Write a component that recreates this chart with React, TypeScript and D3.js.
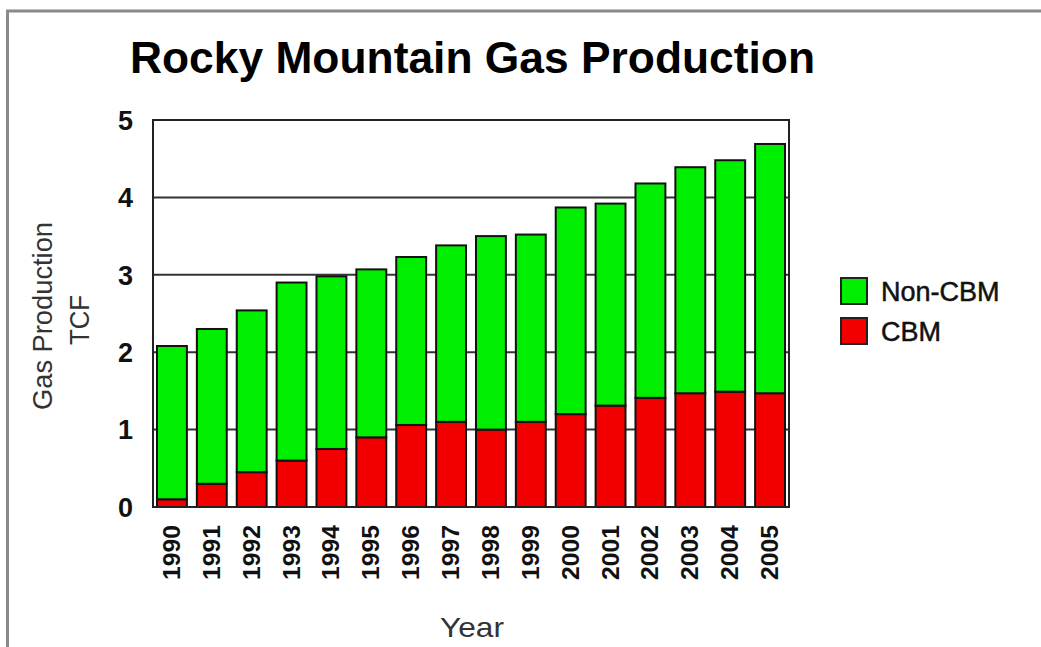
import React from "react";
import * as d3 from "d3";

const years = ["1990","1991","1992","1993","1994","1995","1996","1997","1998","1999","2000","2001","2002","2003","2004","2005"];
const cbm = [0.10,0.30,0.45,0.60,0.75,0.90,1.06,1.10,1.00,1.10,1.20,1.31,1.41,1.47,1.49,1.47];
const nonCbm = [1.98,2.00,2.09,2.30,2.23,2.17,2.17,2.28,2.50,2.42,2.67,2.61,2.77,2.92,2.99,3.22];
const yTicks = [0,1,2,3,4,5];
const seriesNames = ["Non-CBM","CBM"];
const seriesColors = ["#00ee00","#f20000"];

const W = 1041, H = 647;
const plot = { left: 153, right: 789, top: 120, bottom: 507 };

export default function App() {
  const x = d3.scaleBand<string>().domain(years).range([plot.left, plot.right]).paddingInner(0.25).paddingOuter(0.1);
  const y = d3.scaleLinear().domain([0, 5]).range([plot.bottom, plot.top]);
  const rows = years.map((yr, i) => ({ year: yr, CBM: cbm[i], "Non-CBM": nonCbm[i] }));
  const stacked = d3.stack<any>().keys(["CBM", "Non-CBM"])(rows);
  const colorOf = (k: string) => seriesColors[seriesNames.indexOf(k)];
  const font = "'Liberation Sans', Arial, sans-serif";

  return (
    <svg width={W} height={H} style={{ position: "absolute", left: 0, top: 0, background: "#fff" }} fontFamily={font}>
      <rect x={0} y={0} width={W} height={H} fill="#fff" />
      {/* outer frame */}
      <path d={`M7.5,${H + 5} V11 H${W + 5}`} fill="none" stroke="#8a8a8a" strokeWidth={3} />
      {/* title */}
      <text x={130} y={73} fontSize={44} fontWeight="bold" textLength={685} lengthAdjust="spacingAndGlyphs" fill="#000">Rocky Mountain Gas Production</text>
      {/* gridlines */}
      {yTicks.filter(t => t > 0 && t < 5).map(t => (
        <line key={t} x1={plot.left} x2={plot.right} y1={y(t)} y2={y(t)} stroke="#333" strokeWidth={2} />
      ))}
      {/* bars */}
      {stacked.map(layer => (
        <g key={layer.key}>
          {layer.map((d, i) => (
            <rect key={i} x={x(years[i])!} y={y(d[1])} width={x.bandwidth()} height={y(d[0]) - y(d[1])}
              fill={colorOf(layer.key as string)} stroke="#111" strokeWidth={2} />
          ))}
        </g>
      ))}
      {/* plot frame */}
      <rect x={plot.left} y={plot.top} width={plot.right - plot.left} height={plot.bottom - plot.top} fill="none" stroke="#222" strokeWidth={2} />
      {/* y tick labels */}
      {yTicks.map(t => (
        <text key={t} x={133} y={y(t)} dy="0.36em" textAnchor="end" fontSize={27} fontWeight="bold" fill="#111">{t}</text>
      ))}
      {/* x tick labels */}
      {years.map(yr => {
        const cx = x(yr)! + x.bandwidth() / 2;
        return (
          <text key={yr} transform={`translate(${cx + 8},525) rotate(-90)`} textAnchor="end" fontSize={23} fontWeight="bold" textLength={55} lengthAdjust="spacingAndGlyphs" fill="#111">{yr}</text>
        );
      })}
      {/* axis titles */}
      <text transform={`translate(52,316) rotate(-90)`} textAnchor="middle" fontSize={28} textLength={188} lengthAdjust="spacingAndGlyphs" fill="#333">Gas Production</text>
      <text transform={`translate(89,320) rotate(-90)`} textAnchor="middle" fontSize={28} textLength={50} lengthAdjust="spacingAndGlyphs" fill="#333">TCF</text>
      <text x={472} y={637} textAnchor="middle" fontSize={28} textLength={64} lengthAdjust="spacingAndGlyphs" fill="#333">Year</text>
      {/* legend */}
      {seriesNames.map((s, i) => (
        <g key={s} transform={`translate(841,${278 + i * 40})`}>
          <rect x={0} y={0} width={26} height={26} fill={seriesColors[i]} stroke="#222" strokeWidth={2} />
          <text x={40} y={23} fontSize={27} fill="#111" stroke="#111" strokeWidth={0.5}>{s}</text>
        </g>
      ))}
    </svg>
  );
}
